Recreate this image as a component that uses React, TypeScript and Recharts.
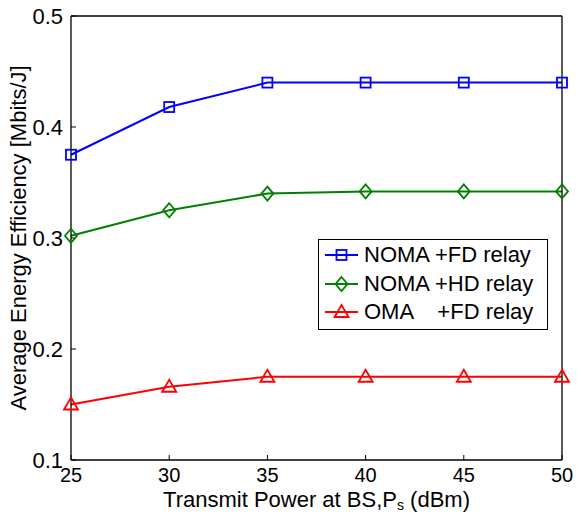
import React from "react";
import { LineChart, Line, XAxis, YAxis, Legend } from "recharts";

const powers = [25, 30, 35, 40, 45, 50];
const nomaFd = [0.375, 0.418, 0.44, 0.44, 0.44, 0.44];
const nomaHd = [0.302, 0.325, 0.34, 0.342, 0.342, 0.342];
const omaFd = [0.15, 0.166, 0.175, 0.175, 0.175, 0.175];

const xTicks = [25, 30, 35, 40, 45, 50];
const yTicks = [0.1, 0.2, 0.3, 0.4, 0.5];

const SERIES = [
  { key: "nomaFd", label: "NOMA +FD relay", color: "#0000ff", shape: "square" },
  { key: "nomaHd", label: "NOMA +HD relay", color: "#008000", shape: "diamond" },
  { key: "omaFd", label: "OMA    +FD relay", color: "#ff0000", shape: "triangle" },
];

const FONT = "'Liberation Sans', Arial, Helvetica, sans-serif";

const rows = powers.map((p, i) => ({
  p,
  nomaFd: nomaFd[i],
  nomaHd: nomaHd[i],
  omaFd: omaFd[i],
}));

function Marker({ cx, cy, shape, color }: any) {
  if (cx == null || cy == null) return null;
  if (shape === "square") {
    return <rect x={cx - 5} y={cy - 5} width={10} height={10} fill="none" stroke={color} strokeWidth={1.8} />;
  }
  if (shape === "diamond") {
    const d = `M${cx},${cy - 7} L${cx + 6},${cy} L${cx},${cy + 7} L${cx - 6},${cy} Z`;
    return <path d={d} fill="none" stroke={color} strokeWidth={1.8} />;
  }
  const d = `M${cx},${cy - 7} L${cx + 7},${cy + 5} L${cx - 7},${cy + 5} Z`;
  return <path d={d} fill="none" stroke={color} strokeWidth={1.8} />;
}

const YTick = ({ x, y, payload }: any) => (
  <text x={x} y={y} textAnchor="end" dominantBaseline="central" fontSize={22} fontFamily={FONT} fill="#000">
    {String(payload.value)}
  </text>
);

const XTick = ({ x, y, payload }: any) => (
  <text x={x} y={y + 22} textAnchor="middle" fontSize={20} fontFamily={FONT} fill="#000">
    {String(payload.value)}
  </text>
);

const LegendBox = () => (
  <div
    style={{
      border: "1.3px solid #000",
      background: "#fff",
      width: 230,
      height: 91,
      boxSizing: "border-box",
      paddingTop: 1,
      fontFamily: FONT,
      fontSize: 22,
    }}
  >
    {SERIES.map((s) => (
      <div key={s.key} style={{ display: "flex", alignItems: "center", height: 28.5 }}>
        <svg width={39} height={20} style={{ marginLeft: 6 }}>
          <line x1={0} y1={10} x2={33} y2={10} stroke={s.color} strokeWidth={2} />
          <Marker cx={16.5} cy={10} shape={s.shape} color={s.color} />
        </svg>
        <span style={{ whiteSpace: "pre", lineHeight: "22px" }}>{s.label}</span>
      </div>
    ))}
  </div>
);

export default function App() {
  return (
    <div style={{ position: "absolute", left: 0, top: 0, background: "#fff" }}>
      <LineChart width={577} height={514} data={rows} margin={{ top: 15, right: 14, bottom: 53, left: 70 }}>
        <XAxis
          dataKey="p"
          type="number"
          domain={[25, 50]}
          ticks={xTicks}
          height={1}
          tickSize={-5}
          tickMargin={5}
          tick={<XTick />}
          stroke="#000"
          axisLine={{ stroke: "#000", strokeWidth: 1.3 }}
          tickLine={{ stroke: "#000" }}
          label={(props: any) => {
            const vb = props.viewBox || {};
            return (
              <text x={vb.x + vb.width / 2} y={vb.y + 47} textAnchor="middle" fontSize={22} fontFamily={FONT} fill="#000">
                <tspan>Transmit Power at BS,P</tspan>
                <tspan dy={3} fontSize={14}>s</tspan>
                <tspan dy={-3}> (dBm)</tspan>
              </text>
            );
          }}
        />
        <XAxis
          xAxisId="top"
          orientation="top"
          type="number"
          domain={[25, 50]}
          ticks={xTicks}
          height={1}
          tickSize={-5}
          tick={false}
          axisLine={{ stroke: "#000", strokeWidth: 1.3 }}
          tickLine={{ stroke: "#000" }}
        />
        <YAxis
          type="number"
          domain={[0.1, 0.5]}
          ticks={yTicks}
          width={1}
          tickSize={-5}
          tickMargin={13}
          tick={<YTick />}
          axisLine={{ stroke: "#000", strokeWidth: 1.3 }}
          tickLine={{ stroke: "#000" }}
          label={(props: any) => {
            const vb = props.viewBox || {};
            const cx = vb.x - 44.5;
            const cy = vb.y + vb.height / 2;
            return (
              <text x={cx} y={cy} transform={`rotate(-90, ${cx}, ${cy})`} textAnchor="middle" fontSize={22} fontFamily={FONT} fill="#000">
                Average Energy Efficiency [Mbits/J]
              </text>
            );
          }}
        />
        <YAxis
          yAxisId="right"
          orientation="right"
          type="number"
          domain={[0.1, 0.5]}
          ticks={yTicks}
          width={1}
          tickSize={-5}
          tick={false}
          axisLine={{ stroke: "#000", strokeWidth: 1.3 }}
          tickLine={{ stroke: "#000" }}
        />
        {SERIES.map((s) => (
          <Line
            key={s.key}
            dataKey={s.key}
            type="linear"
            stroke={s.color}
            strokeWidth={2}
            isAnimationActive={false}
            activeDot={false}
            dot={(props: any) => <Marker key={`${s.key}-${props.index}`} cx={props.cx} cy={props.cy} shape={s.shape} color={s.color} />}
          />
        ))}
        <Legend
          layout="horizontal"
          verticalAlign="middle"
          align="center"
          content={<LegendBox />}
          wrapperStyle={{ position: "absolute", left: 318, top: 239, width: 231, height: 92 }}
        />
      </LineChart>
    </div>
  );
}
